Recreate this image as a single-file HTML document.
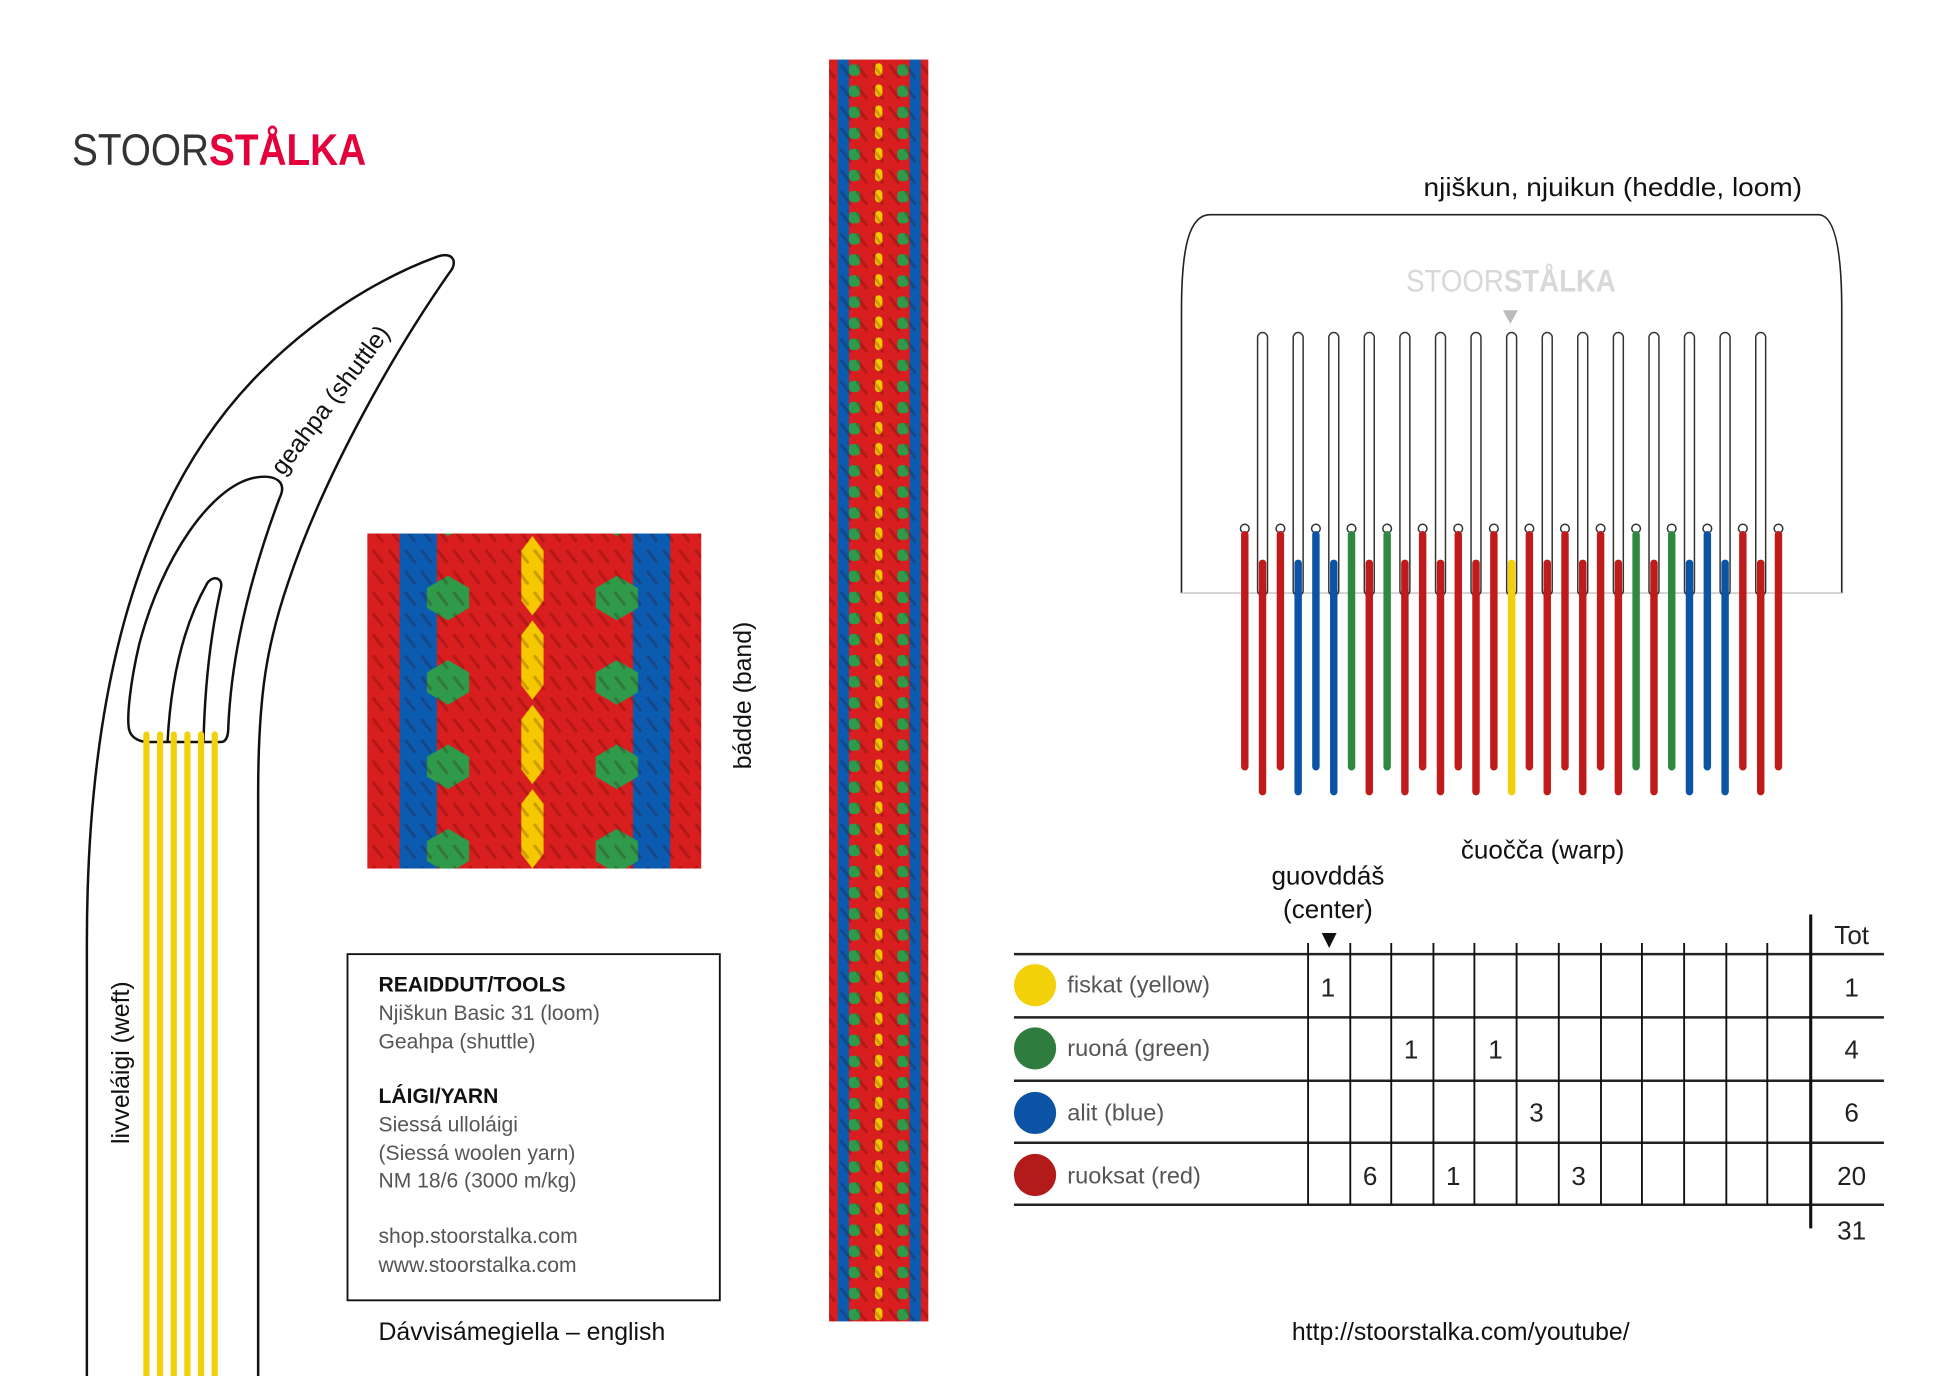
<!DOCTYPE html>
<html><head><meta charset="utf-8"><style>
html,body{margin:0;padding:0;background:#fff;}
svg{display:block;}
text{font-family:"Liberation Sans",sans-serif;}
</style></head><body>
<svg width="1946" height="1376" viewBox="0 0 1568 1109" preserveAspectRatio="none" xmlns="http://www.w3.org/2000/svg">
<defs>
<pattern id="tex" patternUnits="userSpaceOnUse" width="13" height="17">
<path d="M2 2 L9 11" stroke="rgba(60,0,0,0.22)" stroke-width="2.5" stroke-linecap="round"/>
</pattern>
<pattern id="sq" patternUnits="userSpaceOnUse" x="296" y="430" width="269" height="68">
<rect x="0" y="0" width="269" height="68" fill="#d81e1e"/>
<rect x="26" y="0" width="30" height="68" fill="#0b5cb0"/>
<rect x="214" y="0" width="30" height="68" fill="#0b5cb0"/>
<polygon points="48,44 65,34 82,44 82,60 65,70 48,60" fill="#2f9a4a"/>
<polygon points="48,-24 65,-34 82,-24 82,-8 65,2 48,-8" fill="#2f9a4a"/>
<polygon points="184,44 201,34 218,44 218,60 201,70 184,60" fill="#2f9a4a"/>
<polygon points="184,-24 201,-34 218,-24 218,-8 201,2 184,-8" fill="#2f9a4a"/>
<polygon points="124,14 133,2 142,14 142,54 133,66 124,54" fill="#f5c800"/>
</pattern>
<pattern id="st" patternUnits="userSpaceOnUse" x="668" y="48" width="80" height="17">
<rect width="80" height="17" fill="#d81e1e"/>
<rect x="7" width="9" height="17" fill="#0b5cb0"/>
<rect x="65" width="9" height="17" fill="#0b5cb0"/>
<rect x="16" y="4" width="9" height="9" rx="3" fill="#2f9a4a"/>
<rect x="55" y="4" width="9" height="9" rx="3" fill="#2f9a4a"/>
<rect x="37" y="3" width="6" height="10" rx="3" fill="#f5c800"/>
</pattern>
</defs>

<text x="58" y="133" font-size="36" fill="#333" textLength="237" lengthAdjust="spacingAndGlyphs">STOOR<tspan fill="#e4003a" font-weight="bold">STÅLKA</tspan></text>

<g fill="none" stroke="#111" stroke-width="2">
<path d="M70 1109 L70 760 C70 560 110 400 210 300 C270 240 330 215 352 207 C366 202 369 212 362 220 C320 280 262 380 232 470 C215 520 208 560 208 640 L208 1109"/>
<path d="M225 402 C232 388 222 382 205 385 C170 392 130 450 112 520 C105 550 102 578 104 588 C106 596 114 598 120 598 L178 598 C183 598 184 592 184 585 C186 540 196 480 225 402 Z"/>
<path d="M135 598 C138 540 150 500 167 470 C172 463 180 466 178 474 C170 510 165 550 164 598"/>
</g>
<g stroke="#f2d00a" stroke-width="5" stroke-linecap="round">
<line x1="118" y1="592" x2="118" y2="1109"/><line x1="129" y1="592" x2="129" y2="1109"/><line x1="140" y1="592" x2="140" y2="1109"/><line x1="151" y1="592" x2="151" y2="1109"/><line x1="162" y1="592" x2="162" y2="1109"/><line x1="173" y1="592" x2="173" y2="1109"/>
</g>
<text transform="translate(228,384) rotate(-53)" font-size="20" fill="#111">geahpa (shuttle)</text>
<text transform="translate(104,922) rotate(-90)" font-size="20" fill="#111">livveláigi (weft)</text>

<rect x="296" y="430" width="269" height="270" fill="url(#sq)"/>
<rect x="296" y="430" width="269" height="270" fill="url(#tex)"/>
<text transform="translate(605,620) rotate(-90)" font-size="20" fill="#111">bádde (band)</text>

<rect x="668" y="48" width="80" height="1017" fill="url(#st)"/>
<rect x="668" y="48" width="80" height="1017" fill="url(#tex)"/>

<rect x="280" y="769" width="300" height="279" fill="none" stroke="#111" stroke-width="1.5"/>
<g font-size="17" fill="#555">
<text x="305" y="799" font-weight="bold" fill="#111">REAIDDUT/TOOLS</text>
<text x="305" y="822">Njiškun Basic 31 (loom)</text>
<text x="305" y="845">Geahpa (shuttle)</text>
<text x="305" y="889" font-weight="bold" fill="#111">LÁIGI/YARN</text>
<text x="305" y="912">Siessá ulloláigi</text>
<text x="305" y="935">(Siessá woolen yarn)</text>
<text x="305" y="957">NM 18/6 (3000 m/kg)</text>
<text x="305" y="1002">shop.stoorstalka.com</text>
<text x="305" y="1025">www.stoorstalka.com</text>
</g>
<text x="305" y="1080" font-size="20" fill="#111">Dávvisámegiella – english</text>

<text x="1147" y="158" font-size="21" fill="#111" textLength="305" lengthAdjust="spacingAndGlyphs">njiškun, njuikun (heddle, loom)</text>
<path d="M952 478 L952 250 C952 200 958 173 975 173 L1465 173 C1478 173 1484 200 1484 250 L1484 478" fill="none" stroke="#222" stroke-width="1.3"/>
<line x1="952" y1="478" x2="1484" y2="478" stroke="#ccc" stroke-width="1.3"/>
<text x="1133" y="235" font-size="25" fill="#d8d8d8" textLength="169" lengthAdjust="spacingAndGlyphs">STOOR<tspan font-weight="bold">STÅLKA</tspan></text>
<polygon points="1211,250 1223,250 1217,261" fill="#bbb"/>
<g fill="#fff" stroke="#333" stroke-width="1.2">
<rect x="1013.3" y="268" width="8" height="212" rx="4"/><rect x="1042" y="268" width="8" height="212" rx="4"/><rect x="1070.7" y="268" width="8" height="212" rx="4"/><rect x="1099.3" y="268" width="8" height="212" rx="4"/><rect x="1128" y="268" width="8" height="212" rx="4"/><rect x="1156.7" y="268" width="8" height="212" rx="4"/><rect x="1185.3" y="268" width="8" height="212" rx="4"/><rect x="1214" y="268" width="8" height="212" rx="4"/><rect x="1242.7" y="268" width="8" height="212" rx="4"/><rect x="1271.3" y="268" width="8" height="212" rx="4"/><rect x="1300" y="268" width="8" height="212" rx="4"/><rect x="1328.7" y="268" width="8" height="212" rx="4"/><rect x="1357.3" y="268" width="8" height="212" rx="4"/><rect x="1386" y="268" width="8" height="212" rx="4"/><rect x="1414.7" y="268" width="8" height="212" rx="4"/>
<circle cx="1003" cy="426" r="3.5"/><circle cx="1031.7" cy="426" r="3.5"/><circle cx="1060.3" cy="426" r="3.5"/><circle cx="1089" cy="426" r="3.5"/><circle cx="1117.7" cy="426" r="3.5"/><circle cx="1146.3" cy="426" r="3.5"/><circle cx="1175" cy="426" r="3.5"/><circle cx="1203.7" cy="426" r="3.5"/><circle cx="1232.3" cy="426" r="3.5"/><circle cx="1261" cy="426" r="3.5"/><circle cx="1289.7" cy="426" r="3.5"/><circle cx="1318.3" cy="426" r="3.5"/><circle cx="1347" cy="426" r="3.5"/><circle cx="1375.7" cy="426" r="3.5"/><circle cx="1404.3" cy="426" r="3.5"/><circle cx="1433" cy="426" r="3.5"/>
</g>
<g stroke-width="6" stroke-linecap="round">
<line x1="1003" y1="431" x2="1003" y2="618" stroke="#c01b1b"/>
<line x1="1031.7" y1="431" x2="1031.7" y2="618" stroke="#c01b1b"/>
<line x1="1060.3" y1="431" x2="1060.3" y2="618" stroke="#0b54a5"/>
<line x1="1089" y1="431" x2="1089" y2="618" stroke="#2e8842"/>
<line x1="1117.7" y1="431" x2="1117.7" y2="618" stroke="#2e8842"/>
<line x1="1146.3" y1="431" x2="1146.3" y2="618" stroke="#c01b1b"/>
<line x1="1175" y1="431" x2="1175" y2="618" stroke="#c01b1b"/>
<line x1="1203.7" y1="431" x2="1203.7" y2="618" stroke="#c01b1b"/>
<line x1="1232.3" y1="431" x2="1232.3" y2="618" stroke="#c01b1b"/>
<line x1="1261" y1="431" x2="1261" y2="618" stroke="#c01b1b"/>
<line x1="1289.7" y1="431" x2="1289.7" y2="618" stroke="#c01b1b"/>
<line x1="1318.3" y1="431" x2="1318.3" y2="618" stroke="#2e8842"/>
<line x1="1347" y1="431" x2="1347" y2="618" stroke="#2e8842"/>
<line x1="1375.7" y1="431" x2="1375.7" y2="618" stroke="#0b54a5"/>
<line x1="1404.3" y1="431" x2="1404.3" y2="618" stroke="#c01b1b"/>
<line x1="1433" y1="431" x2="1433" y2="618" stroke="#c01b1b"/>
<line x1="1017.3" y1="454" x2="1017.3" y2="638" stroke="#c01b1b"/>
<line x1="1046" y1="454" x2="1046" y2="638" stroke="#0b54a5"/>
<line x1="1074.7" y1="454" x2="1074.7" y2="638" stroke="#0b54a5"/>
<line x1="1103.3" y1="454" x2="1103.3" y2="638" stroke="#c01b1b"/>
<line x1="1132" y1="454" x2="1132" y2="638" stroke="#c01b1b"/>
<line x1="1160.7" y1="454" x2="1160.7" y2="638" stroke="#c01b1b"/>
<line x1="1189.3" y1="454" x2="1189.3" y2="638" stroke="#c01b1b"/>
<line x1="1218" y1="454" x2="1218" y2="638" stroke="#f2d00a"/>
<line x1="1246.7" y1="454" x2="1246.7" y2="638" stroke="#c01b1b"/>
<line x1="1275.3" y1="454" x2="1275.3" y2="638" stroke="#c01b1b"/>
<line x1="1304" y1="454" x2="1304" y2="638" stroke="#c01b1b"/>
<line x1="1332.7" y1="454" x2="1332.7" y2="638" stroke="#c01b1b"/>
<line x1="1361.3" y1="454" x2="1361.3" y2="638" stroke="#0b54a5"/>
<line x1="1390" y1="454" x2="1390" y2="638" stroke="#0b54a5"/>
<line x1="1418.7" y1="454" x2="1418.7" y2="638" stroke="#c01b1b"/>
</g>
<text x="1243" y="692" font-size="21" fill="#111" text-anchor="middle">čuočča (warp)</text>

<text x="1070" y="713" font-size="21" fill="#111" text-anchor="middle">guovddáš</text>
<text x="1070" y="740" font-size="21" fill="#111" text-anchor="middle">(center)</text>
<polygon points="1065,752 1077,752 1071,764" fill="#111"/>
<g stroke="#222" stroke-width="2">
<line x1="817" y1="769" x2="1518" y2="769"/><line x1="817" y1="820" x2="1518" y2="820"/><line x1="817" y1="871" x2="1518" y2="871"/><line x1="817" y1="921" x2="1518" y2="921"/><line x1="817" y1="971" x2="1518" y2="971"/>
</g>
<g stroke="#111" stroke-width="1.5">
<line x1="1054" y1="760" x2="1054" y2="971"/><line x1="1088" y1="760" x2="1088" y2="971"/><line x1="1121" y1="760" x2="1121" y2="971"/><line x1="1155" y1="760" x2="1155" y2="971"/><line x1="1188" y1="760" x2="1188" y2="971"/><line x1="1222" y1="760" x2="1222" y2="971"/><line x1="1256" y1="760" x2="1256" y2="971"/><line x1="1290" y1="760" x2="1290" y2="971"/><line x1="1323" y1="760" x2="1323" y2="971"/><line x1="1357" y1="760" x2="1357" y2="971"/><line x1="1391" y1="760" x2="1391" y2="971"/><line x1="1424" y1="760" x2="1424" y2="971"/>
</g>
<line x1="1459" y1="737" x2="1459" y2="990" stroke="#111" stroke-width="2.5"/>
<circle cx="834" cy="794" r="17" fill="#f2d00a"/>
<circle cx="834" cy="845" r="17" fill="#2e7d3e"/>
<circle cx="834" cy="897" r="17" fill="#0b54a5"/>
<circle cx="834" cy="947" r="17" fill="#b31b1b"/>
<g font-size="19" fill="#555">
<text x="860" y="800">fiskat (yellow)</text>
<text x="860" y="851">ruoná (green)</text>
<text x="860" y="903">alit (blue)</text>
<text x="860" y="954">ruoksat (red)</text>
</g>
<g font-size="21" fill="#222" text-anchor="middle">
<text x="1070" y="803">1</text>
<text x="1137" y="853">1</text><text x="1205" y="853">1</text>
<text x="1238" y="904">3</text>
<text x="1104" y="955">6</text><text x="1171" y="955">1</text><text x="1272" y="955">3</text>
<text x="1492" y="761">Tot</text>
<text x="1492" y="803">1</text>
<text x="1492" y="853">4</text>
<text x="1492" y="904">6</text>
<text x="1492" y="955">20</text>
<text x="1492" y="999">31</text>
</g>
<text x="1177" y="1080" font-size="20" fill="#111" text-anchor="middle">http://stoorstalka.com/youtube/</text>
</svg>
</body></html>
